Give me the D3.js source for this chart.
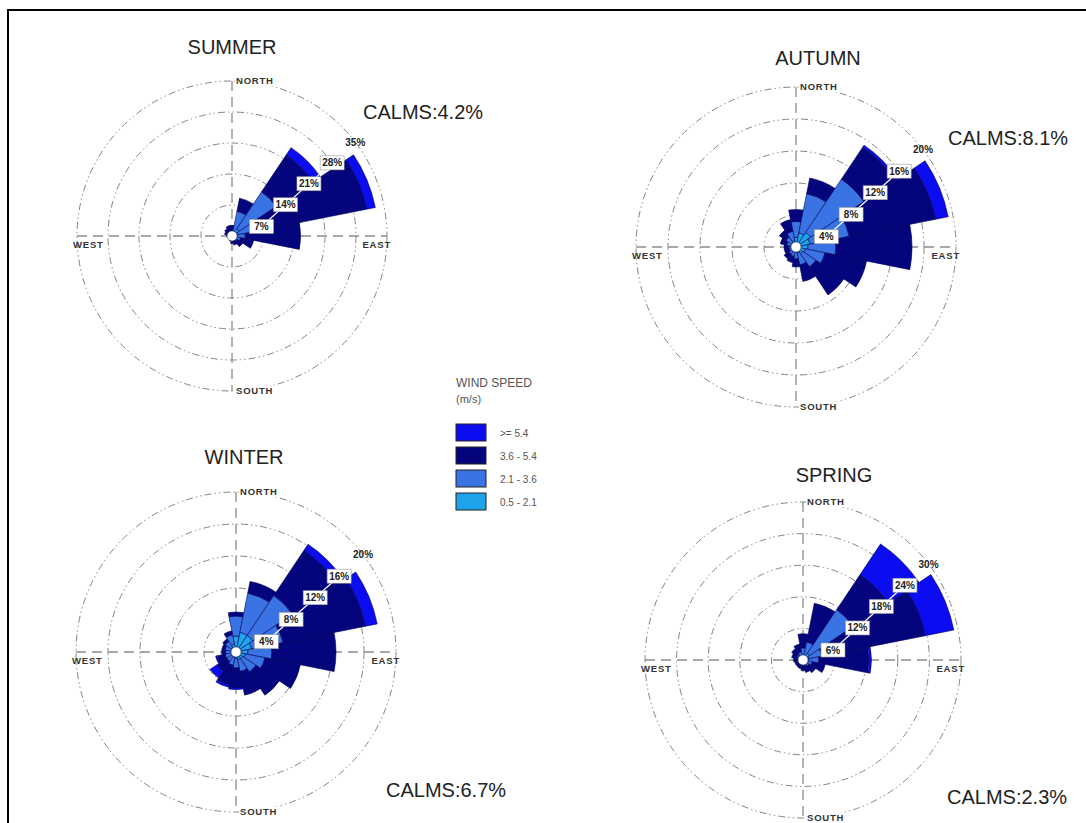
<!DOCTYPE html>
<html>
<head>
<meta charset="utf-8">
<script src="https://cdn.jsdelivr.net/npm/d3@7"></script>
<style>
  body { margin: 0; background: #fff; }
  text { font-family: "Liberation Sans", Arial, sans-serif; }
</style>
</head>
<body>
<div id="chart"></div>
<script>
// 16 compass directions, clockwise from north
const directions = ["N", "NNE", "NE", "ENE", "E", "ESE", "SE", "SSE",
                    "S", "SSW", "SW", "WSW", "W", "WNW", "NW", "NNW"];

// legend, top to bottom
const speedLabels = [">= 5.4", "3.6 - 5.4", "2.1 - 3.6", "0.5 - 2.1"];
const binColors = ["#0c0cf0", "#04047c", "#3a74e4", "#1ea4ea"]; // same order as speedLabels

// frequency (%) per direction, bins: [0.5-2.1, 2.1-3.6, 3.6-5.4, >=5.4]
const summer = [
  [0.6, 0.8, 1.0, 0], [1.2, 4.5, 3.0, 0], [2.0, 10, 10, 2.0], [1.5, 4.5, 25, 2.0],
  [1.0, 2.0, 12.5, 0], [0.8, 1.2, 3.0, 0], [0.6, 0.8, 1.5, 0], [0.5, 0.6, 1.0, 0],
  [0.4, 0.5, 0.8, 0], [0.3, 0.4, 0.5, 0], [0.3, 0.3, 0.4, 0], [0.3, 0.3, 0.4, 0],
  [0.3, 0.4, 0.5, 0], [0.4, 0.5, 0.8, 0], [0.4, 0.6, 1.0, 0], [0.5, 0.7, 1.2, 0]
];
const autumn = [
  [1.2, 2.0, 1.5, 0], [1.8, 5.0, 2.0, 0], [2.2, 8.0, 4.8, 0.3], [1.8, 5.0, 11, 1.6],
  [1.5, 3.5, 9.5, 0], [1.2, 2.5, 5.3, 0], [1.0, 2.0, 4.2, 0], [0.8, 1.5, 2.1, 0],
  [0.6, 0.9, 1.0, 0], [0.5, 0.7, 0.8, 0], [0.5, 0.6, 0.7, 0], [0.4, 0.5, 0.6, 0],
  [0.4, 0.5, 0.6, 0], [0.5, 0.7, 0.8, 0], [0.6, 0.9, 1.0, 0], [0.8, 1.2, 1.5, 0]
];
const winter = [
  [2.0, 2.5, 0.5, 0], [2.5, 5.0, 1.5, 0], [2.5, 6.0, 6.8, 0.9], [2.0, 4.0, 10.5, 1.5],
  [1.5, 3.0, 8.0, 0], [1.2, 2.5, 4.5, 0], [1.0, 2.0, 3.5, 0], [1.0, 1.5, 3.0, 0],
  [0.8, 1.2, 2.5, 0.2], [0.7, 1.0, 2.5, 0.3], [0.6, 0.8, 1.5, 1.0], [0.6, 0.8, 1.0, 0.2],
  [0.6, 0.7, 0.5, 0], [0.6, 0.8, 0.4, 0], [0.7, 0.9, 0.4, 0], [1.0, 1.2, 0.5, 0]
];
const spring = [
  [0.8, 1.5, 2.7, 0], [1.0, 2.5, 7.5, 0], [1.5, 10, 8.0, 7.0], [1.2, 2.5, 20, 5.5],
  [1.0, 2.0, 9.5, 0.5], [0.8, 1.0, 2.5, 0], [0.6, 0.8, 1.5, 0], [0.5, 0.7, 1.2, 0],
  [0.5, 0.6, 0.9, 0], [0.4, 0.5, 0.8, 0], [0.4, 0.5, 0.7, 0], [0.4, 0.5, 0.7, 0],
  [0.4, 0.6, 0.8, 0], [0.5, 0.7, 1.0, 0], [0.5, 0.8, 1.3, 0], [0.6, 1.0, 1.5, 0]
];

const seasons = ["SUMMER", "AUTUMN", "WINTER", "SPRING"];
const seasonData = [summer, autumn, winter, spring];
const calms = [4.2, 8.1, 6.7, 2.3];
const ringTicks = [
  [7, 14, 21, 28, 35],
  [4, 8, 12, 16, 20],
  [4, 8, 12, 16, 20],
  [6, 12, 18, 24, 30]
];
const compass = ["NORTH", "SOUTH", "WEST", "EAST"];

// placement of each rose on the page
const layout = [
  { cx: 232, cy: 236, R: 155, tx: 232, ty: 54, calmX: 363, calmY: 119 },
  { cx: 796, cy: 247, R: 160, tx: 818, ty: 65, calmX: 948, calmY: 145 },
  { cx: 236, cy: 652, R: 160, tx: 244, ty: 464, calmX: 386, calmY: 797 },
  { cx: 803, cy: 660, R: 158, tx: 834, ty: 482, calmX: 947, calmY: 804 }
];

const width = 1086, height = 823;

const svg = d3.select("#chart")
  .append("svg")
  .attr("width", width)
  .attr("height", height);

// frame
svg.append("path")
  .attr("d", `M8,${height} V10 H${width}`)
  .attr("fill", "none")
  .attr("stroke", "#000")
  .attr("stroke-width", 2);

const step = 2 * Math.PI / directions.length;
// bins are drawn inner->outer: colours in reverse of the legend
const innerToOuterColors = binColors.slice().reverse();

seasons.forEach(function (name, s) {
  const L = layout[s];
  const ticks = ringTicks[s];
  const data = seasonData[s];

  const r = d3.scaleLinear()
    .domain([0, ticks[ticks.length - 1]])
    .range([0, L.R]);

  const g = svg.append("g")
    .attr("transform", `translate(${L.cx}, ${L.cy})`);

  // rings
  g.selectAll(".ring")
    .data(ticks)
    .join("circle")
    .attr("class", "ring")
    .attr("r", d => r(d))
    .attr("fill", "none")
    .attr("stroke", "#858585")
    .attr("stroke-width", 1)
    .attr("stroke-dasharray", "7,3,1.5,3,1.5,3");

  // axes
  g.append("line")
    .attr("x1", 0).attr("y1", -L.R).attr("x2", 0).attr("y2", L.R)
    .attr("stroke", "#8c8c8c").attr("stroke-width", 1.3)
    .attr("stroke-dasharray", "10,6");
  g.append("line")
    .attr("x1", -L.R).attr("y1", 0).attr("x2", L.R).attr("y2", 0)
    .attr("stroke", "#8c8c8c").attr("stroke-width", 1.3)
    .attr("stroke-dasharray", "10,6");

  // petals: stacked arcs per direction
  const segments = [];
  data.forEach(function (bins, i) {
    let cum = 0;
    bins.forEach(function (v, b) {
      if (v > 0) segments.push({ dir: directions[i], i: i, b: b, from: cum, to: cum + v });
      cum += v;
    });
  });

  const arc = d3.arc()
    .innerRadius(d => r(d.from))
    .outerRadius(d => r(d.to))
    .startAngle(d => (d.i - 0.5) * step)
    .endAngle(d => (d.i + 0.5) * step);

  g.selectAll(".petal")
    .data(segments)
    .join("path")
    .attr("class", "petal")
    .attr("d", arc)
    .attr("fill", d => innerToOuterColors[d.b])
    .attr("stroke", "#00005a")
    .attr("stroke-width", 0.6);

  // calm circle
  g.append("circle")
    .attr("r", 5)
    .attr("fill", "#fff")
    .attr("stroke", "#333")
    .attr("stroke-width", 0.5);

  // ring labels sit where an offset diagonal meets each ring
  const k = 0.9, c = 17;
  const labelPos = ticks.map(function (t) {
    const rr = r(t);
    const a = 1 + k * k, bq = -2 * c * k, cq = c * c - rr * rr;
    const x = (-bq + Math.sqrt(bq * bq - 4 * a * cq)) / (2 * a);
    return { t: t, x: x, y: c - k * x };
  });

  g.append("line")
    .attr("x1", labelPos[0].x).attr("y1", labelPos[0].y)
    .attr("x2", labelPos[labelPos.length - 2].x).attr("y2", labelPos[labelPos.length - 2].y)
    .attr("stroke", "#fff")
    .attr("stroke-width", 1.2);

  const lab = g.selectAll(".rlab")
    .data(labelPos)
    .join("g")
    .attr("class", "rlab")
    .attr("transform", d => `translate(${d.x}, ${d.y})`);
  lab.filter((d, i) => i < labelPos.length - 1)
    .append("rect")
    .attr("x", -12).attr("y", -7)
    .attr("width", 24).attr("height", 14)
    .attr("fill", "#fff")
    .attr("stroke", "#9a9a9a")
    .attr("stroke-width", 0.6);
  lab.append("text")
    .attr("text-anchor", "middle")
    .attr("dy", "0.35em")
    .style("font-size", "10px")
    .style("font-weight", "bold")
    .attr("fill", "#222")
    .text(d => d.t + "%");

  // compass labels
  const cpos = [
    { x: 4, y: -L.R, anchor: "start" },
    { x: 4, y: L.R, anchor: "start" },
    { x: -L.R - 4, y: 9, anchor: "start" },
    { x: L.R + 4, y: 9, anchor: "end" }
  ];
  compass.forEach(function (txt, j) {
    const p = cpos[j];
    const t = g.append("text")
      .attr("x", p.x).attr("y", p.y)
      .attr("dy", "0.35em")
      .attr("text-anchor", p.anchor)
      .style("font-size", "9.5px")
      .style("font-weight", "bold")
      .style("letter-spacing", "0.8px")
      .attr("fill", "#333")
      .text(txt);
    if (j < 2) {
      const bb = t.node().getBBox();
      g.insert("rect", () => t.node())
        .attr("x", bb.x - 1).attr("y", bb.y)
        .attr("width", bb.width + 2).attr("height", bb.height)
        .attr("fill", "#fff");
    }
  });

  // title and calms
  svg.append("text")
    .attr("x", L.tx).attr("y", L.ty)
    .attr("text-anchor", "middle")
    .style("font-size", "20px")
    .attr("fill", "#222")
    .text(name);

  svg.append("text")
    .attr("x", L.calmX).attr("y", L.calmY)
    .style("font-size", "20px")
    .attr("fill", "#222")
    .text("CALMS:" + calms[s] + "%");
});

// legend
const legend = svg.append("g").attr("transform", "translate(456, 0)");
legend.append("text")
  .attr("x", 0).attr("y", 387)
  .style("font-size", "12px")
  .attr("fill", "#555")
  .text("WIND SPEED");
legend.append("text")
  .attr("x", 0).attr("y", 403)
  .style("font-size", "11px")
  .attr("fill", "#555")
  .text("(m/s)");

const item = legend.selectAll(".item")
  .data(speedLabels)
  .join("g")
  .attr("class", "item")
  .attr("transform", (d, i) => `translate(0, ${424 + i * 23})`);
item.append("rect")
  .attr("width", 30).attr("height", 17)
  .attr("fill", (d, i) => binColors[i])
  .attr("stroke", "#222")
  .attr("stroke-width", 1);
item.append("text")
  .attr("x", 44).attr("y", 9)
  .attr("dy", "0.35em")
  .style("font-size", "10px")
  .attr("fill", "#555")
  .text(d => d);
</script>
</body>
</html>
